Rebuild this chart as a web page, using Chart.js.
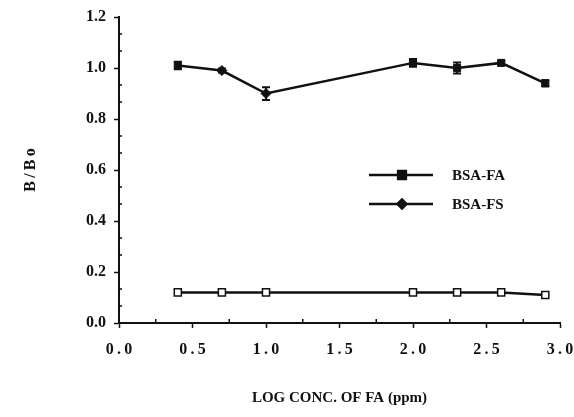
<!DOCTYPE html>
<html>
<head>
<meta charset="utf-8">
<script src="https://cdn.jsdelivr.net/npm/chart.js@4/dist/chart.umd.min.js"></script>
<style>
  html, body { margin: 0; padding: 0; background: #fff; }
  #wrap { width: 574px; height: 417px; }
</style>
</head>
<body>
<div id="wrap"><canvas id="chart" width="574" height="417"></canvas></div>
<script>
// values
const logConc = [0.4, 0.7, 1.0, 2.0, 2.3, 2.6, 2.9];
const bsaFA = [1.01, 0.99, 0.90, 1.02, 1.00, 1.02, 0.94];
const bsaFAErr = [0.015, 0.008, 0.025, 0.015, 0.022, 0.008, 0.012];
const bsaFS = [0.12, 0.12, 0.12, 0.12, 0.12, 0.12, 0.11];
const bsaFAMarks = ['rect', 'rectRot', 'rectRot', 'rect', 'rect', 'rect', 'rect'];
const legendNames = ['BSA-FA', 'BSA-FS'];
const legendMarks = ['rect', 'rectRot'];

const ink = '#111';
const serif = 'Liberation Serif';

// error bars, minor ticks and the line-style legend
const extras = {
  id: 'extras',
  afterDatasetsDraw(chart) {
    const ctx = chart.ctx;
    const x = chart.scales.x, y = chart.scales.y;
    ctx.save();
    ctx.strokeStyle = ink;
    ctx.lineWidth = 2;
    logConc.forEach((v, i) => {
      const px = x.getPixelForValue(v);
      const top = y.getPixelForValue(bsaFA[i] + bsaFAErr[i]);
      const bot = y.getPixelForValue(bsaFA[i] - bsaFAErr[i]);
      ctx.beginPath();
      ctx.moveTo(px, top); ctx.lineTo(px, bot);
      ctx.moveTo(px - 4, top); ctx.lineTo(px + 4, top);
      ctx.moveTo(px - 4, bot); ctx.lineTo(px + 4, bot);
      ctx.stroke();
    });

    // minor ticks
    ctx.lineWidth = 1.5;
    ctx.beginPath();
    for (let k = 1; k < 18; k++) {
      if (k % 3 === 0) continue;
      const py = y.getPixelForValue(k * 0.2 / 3);
      ctx.moveTo(x.left - 1, py); ctx.lineTo(x.left + 3, py);
    }
    for (let k = 1; k < 12; k++) {
      if (k % 2 === 0) continue;
      const px = x.getPixelForValue(k * 0.25);
      ctx.moveTo(px, y.bottom - 4); ctx.lineTo(px, y.bottom + 1);
    }
    ctx.stroke();

    // legend
    ctx.font = 'bold 15px "' + serif + '"';
    ctx.textBaseline = 'middle';
    ctx.fillStyle = ink;
    legendNames.forEach((name, i) => {
      const ly = 175 + i * 29;
      ctx.lineWidth = 2.5;
      ctx.beginPath();
      ctx.moveTo(369, ly); ctx.lineTo(433, ly);
      ctx.stroke();
      Chart.helpers.drawPoint(ctx, {pointStyle: legendMarks[i], radius: i === 0 ? 5.5 : 4.5, borderWidth: 1}, 402, ly);
      ctx.fill();
      ctx.fillText(name, 452, ly + 1);
    });
    ctx.restore();
  }
};

new Chart(document.getElementById('chart'), {
  type: 'line',
  data: {
    datasets: [
      {
        label: legendNames[0],
        data: logConc.map((v, i) => ({x: v, y: bsaFA[i]})),
        borderColor: ink,
        backgroundColor: ink,
        borderWidth: 2.5,
        pointStyle: bsaFAMarks,
        pointRadius: 5,
        pointBorderWidth: 1,
        tension: 0
      },
      {
        label: legendNames[1],
        data: logConc.map((v, i) => ({x: v, y: bsaFS[i]})),
        borderColor: ink,
        backgroundColor: '#fff',
        borderWidth: 2.5,
        pointStyle: 'rect',
        pointRadius: 5,
        pointBorderWidth: 1.5,
        tension: 0
      }
    ]
  },
  options: {
    responsive: false,
    animation: false,
    layout: { padding: { top: 17, right: 14, bottom: 0, left: 0 } },
    plugins: {
      legend: { display: false },
      tooltip: { enabled: false }
    },
    scales: {
      x: {
        type: 'linear',
        min: 0, max: 3,
        afterFit(s) { s.height = 94; s.paddingLeft = 0; s.paddingRight = 0; },
        border: { display: true, color: ink, width: 2 },
        grid: { drawOnChartArea: false, color: ink, tickLength: 5, tickWidth: 1.5 },
        ticks: {
          stepSize: 0.5,
          color: ink,
          padding: 12,
          maxRotation: 0,
          font: { family: serif, size: 16, weight: 'bold' },
          // the figure prints these with wide letter spacing
          callback: v => v.toFixed(1).split('').join('\u2009')
        },
        title: {
          display: true,
          text: 'LOG CONC. OF FA (ppm)',
          color: ink,
          padding: { top: 0, bottom: 10 },
          font: { family: serif, size: 15, weight: 'bold' }
        }
      },
      y: {
        min: 0, max: 1.2,
        afterFit(s) { s.width = 119; s.paddingTop = 0; s.paddingBottom = 0; },
        border: { display: true, color: ink, width: 2 },
        grid: { drawOnChartArea: false, color: ink, tickLength: 5, tickWidth: 1.5 },
        ticks: {
          stepSize: 0.2,
          color: ink,
          padding: 8,
          font: { family: serif, size: 16, weight: 'bold' },
          callback: v => v.toFixed(1)
        },
        title: {
          display: true,
          text: 'B\u2009/\u2009B\u2009o',
          color: ink,
          padding: { top: 21, bottom: 0 },
          font: { family: serif, size: 16, weight: 'bold' }
        }
      }
    }
  },
  plugins: [extras]
});
</script>
</body>
</html>
